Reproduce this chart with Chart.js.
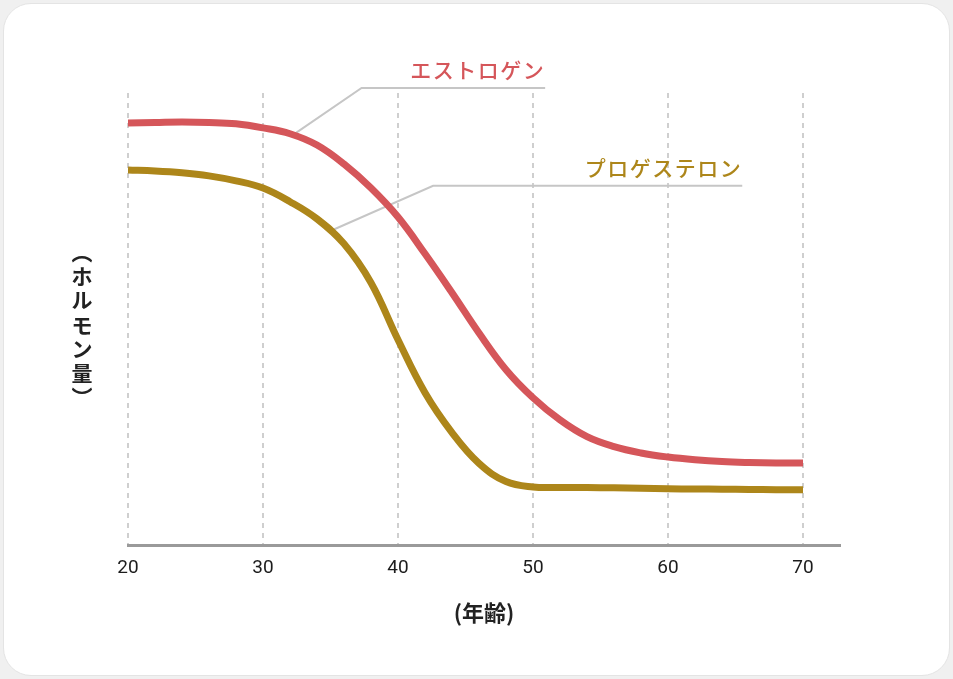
<!DOCTYPE html>
<html lang="ja">
<head>
<meta charset="utf-8">
<title>ホルモン量と年齢</title>
<script src="https://cdn.jsdelivr.net/npm/chart.js@4.4.1/dist/chart.umd.min.js"></script>
<style>
  html, body { margin: 0; padding: 0; background: #f0f0f0; }
  .wrap { position: relative; width: 953px; height: 679px; }
  .card {
    position: absolute; left: 3px; top: 3px; right: 3px; bottom: 3px;
    background: #fff; border: 1px solid #e4e4e4; border-radius: 28px;
  }
  #chart { position: absolute; left: 0; top: 0; }
</style>
</head>
<body>
<div class="wrap">
  <div class="card"></div>
  <canvas id="chart" width="953" height="679"></canvas>
</div>
<script>
// ages on the x axis
const ageTicks = [20, 30, 40, 50, 60, 70];

// estrogen (relative level, 0-100)
const estrogenAges = [20, 22, 24, 26, 28, 30, 32, 34, 36, 38, 40, 42, 44, 46, 48, 50, 52, 54, 56, 58, 60, 62, 64, 66, 68, 70];
const estrogenLevels = [93.4, 93.5, 93.6, 93.5, 93.2, 92.3, 91.0, 88.5, 84.3, 79.0, 72.6, 64.5, 55.9, 47.0, 38.9, 32.7, 27.8, 24.1, 21.9, 20.5, 19.6, 19.0, 18.6, 18.4, 18.3, 18.3];

// progesterone (relative level, 0-100)
const progesteroneAges = [20, 22, 24, 26, 28, 30, 32, 34, 36, 38, 40, 42, 44, 46, 48, 50, 52, 54, 56, 58, 60, 62, 64, 66, 68, 70];
const progesteroneLevels = [83.0, 82.8, 82.4, 81.7, 80.6, 79.0, 76.0, 72.2, 66.7, 58.1, 45.5, 33.8, 25.0, 18.2, 14.2, 13.0, 12.9, 12.85, 12.8, 12.7, 12.6, 12.55, 12.5, 12.45, 12.4, 12.4];

const RED = '#d5565a';
const GOLD = '#ad861a';

// label callouts, in data units: [age, level]
const callouts = [
  { text: 'エストロゲン', color: RED, anchor: [32.2, 90.7], elbow: [37.3, 101.1], end: [50.9, 101.1], label: [50.9, 105.1] },
  { text: 'プロゲステロン', color: GOLD, anchor: [35.2, 69.8], elbow: [42.6, 79.5], end: [65.5, 79.5], label: [65.5, 83.4] }
];

const yTitle = ['︵', 'ホ', 'ル', 'モ', 'ン', '量', '︶'];

const toPoints = (xs, ys) => xs.map((v, i) => ({ x: v, y: ys[i] }));

const calloutPlugin = {
  id: 'callouts',
  beforeDatasetsDraw(chart) {
    const { ctx, scales: { x, y } } = chart;
    ctx.save();
    ctx.strokeStyle = '#c6c6c6';
    ctx.lineWidth = 2;
    callouts.forEach(c => {
      ctx.beginPath();
      ctx.moveTo(x.getPixelForValue(c.anchor[0]), y.getPixelForValue(c.anchor[1]));
      ctx.lineTo(x.getPixelForValue(c.elbow[0]), y.getPixelForValue(c.elbow[1]));
      ctx.lineTo(x.getPixelForValue(c.end[0]), y.getPixelForValue(c.end[1]));
      ctx.stroke();
    });
    ctx.restore();
  },
  afterDraw(chart) {
    const { ctx, chartArea, scales: { x, y } } = chart;
    ctx.save();
    ctx.font = '500 21px "Noto Sans CJK JP", sans-serif';
    ctx.letterSpacing = '1.5px';
    ctx.textAlign = 'right';
    ctx.textBaseline = 'middle';
    callouts.forEach(c => {
      ctx.fillStyle = c.color;
      ctx.fillText(c.text, x.getPixelForValue(c.label[0]), y.getPixelForValue(c.label[1]));
    });

    // vertical y-axis title, upright characters
    ctx.letterSpacing = '0px';
    ctx.font = 'bold 21px "Noto Sans CJK JP", sans-serif';
    ctx.fillStyle = '#222';
    ctx.textAlign = 'center';
    const cx = chartArea.left - 46;
    const top = 252;
    yTitle.forEach((ch, i) => ctx.fillText(ch, cx, top + i * 24.2));
    ctx.restore();
  }
};

new Chart(document.getElementById('chart'), {
  type: 'line',
  data: {
    datasets: [
      {
        label: 'エストロゲン',
        data: toPoints(estrogenAges, estrogenLevels),
        borderColor: RED,
        borderWidth: 7,
        pointRadius: 0,
        tension: 0.4,
        borderCapStyle: 'butt'
      },
      {
        label: 'プロゲステロン',
        data: toPoints(progesteroneAges, progesteroneLevels),
        borderColor: GOLD,
        borderWidth: 7,
        pointRadius: 0,
        tension: 0.4,
        borderCapStyle: 'butt'
      }
    ]
  },
  options: {
    responsive: false,
    animation: false,
    layout: { padding: { left: 128, right: 113, top: 93, bottom: 53 } },
    plugins: {
      legend: { display: false },
      tooltip: { enabled: false }
    },
    scales: {
      x: {
        type: 'linear',
        min: 20,
        max: 72.74,
        afterBuildTicks: scale => { scale.ticks = ageTicks.map(v => ({ value: v })); },
        ticks: {
          color: '#1c1c1c',
          padding: 11,
          maxRotation: 0,
          font: { family: 'Roboto, "Liberation Sans", sans-serif', size: 19 }
        },
        grid: { color: '#cfcfcf', lineWidth: 2, drawTicks: false },
        border: { display: true, color: '#9a9a9a', width: 3, dash: [5, 5] },
        title: {
          display: true,
          text: '(年齢)',
          color: '#222',
          padding: { top: 9, bottom: 0 },
          font: { family: '"Noto Sans CJK JP", sans-serif', size: 22, weight: 'bold' }
        }
      },
      y: {
        display: false,
        min: 0,
        max: 100
      }
    }
  },
  plugins: [calloutPlugin]
});
</script>
</body>
</html>
